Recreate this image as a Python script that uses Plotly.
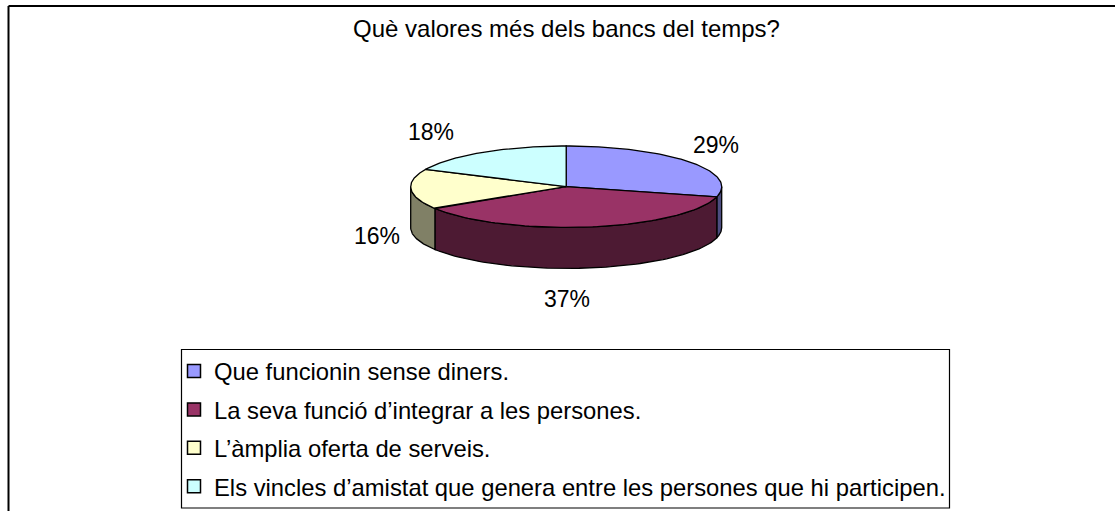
import numpy as np
import plotly.graph_objects as go

# ---------------- data ----------------
categories = [
    "Que funcionin sense diners.",
    "La seva funció d’integrar a les persones.",
    "L’àmplia oferta de serveis.",
    "Els vincles d’amistat que genera entre les persones que hi participen.",
]
values = [29, 37, 16, 18]
title_text = "Què valores més dels bancs del temps?"

# ---------------- style ----------------
top_colors = ["#9999FF", "#993366", "#FFFFCC", "#CCFFFF"]
side_colors = ["#4D4D80", "#4D1A33", "#808066", "#668080"]
FONT = "Arial, Liberation Sans, sans-serif"
W, H = 1115, 511
CX_PX, CY_PX = 566.2, 186.7      # pie centre (pixels)
RX_PX = 155.5                    # horizontal radius (pixels) -> 1 unit
TILT = 40.7 / RX_PX              # vertical squash of the top face
DEPTH = 41.0 / RX_PX             # thickness of the pie
LAB_RX, LAB_RY = 1.222, 0.437    # label ellipse
label_nudge_px = [(0, 0), (-29, -4), (0, -4), (-33, -3)]  # (dx, dy up)

x_range = [-CX_PX / RX_PX, (W - CX_PX) / RX_PX]
y_range = [-(H - CY_PX) / RX_PX, CY_PX / RX_PX]

total = float(sum(values))
bounds = [90.0]
for v in values:
    bounds.append(bounds[-1] - 360.0 * v / total)


def arc(a0, a1, n=80):
    return np.radians(np.linspace(a0, a1, n))


fig = go.Figure()

# side walls (only the front half, angles in [-180, 0] mod 360)
for i in range(len(values)):
    hi, lo = bounds[i], bounds[i + 1]
    for shift in (-360.0, 0.0, 360.0):
        s_lo, s_hi = max(lo, -180.0 + shift), min(hi, 0.0 + shift)
        if s_hi - s_lo <= 0.01:
            continue
        t = arc(s_lo, s_hi)
        xs = np.concatenate([np.cos(t), np.cos(t[::-1]), [np.cos(t[0])]])
        ys = np.concatenate([TILT * np.sin(t), TILT * np.sin(t[::-1]) - DEPTH,
                             [TILT * np.sin(t[0])]])
        fig.add_trace(go.Scatter(
            x=xs, y=ys, mode="lines", fill="toself",
            fillcolor=side_colors[i], line=dict(color="black", width=1.3),
            showlegend=False, hoverinfo="skip"))

# top faces
for i in range(len(values)):
    t = arc(bounds[i], bounds[i + 1])
    xs = np.concatenate([[0.0], np.cos(t), [0.0]])
    ys = np.concatenate([[0.0], TILT * np.sin(t), [0.0]])
    fig.add_trace(go.Scatter(
        x=xs, y=ys, mode="lines", fill="toself",
        fillcolor=top_colors[i], line=dict(color="black", width=1.3),
        showlegend=False, hoverinfo="text",
        text=f"{categories[i]} {values[i]}%"))

# legend entries
for i, name in enumerate(categories):
    fig.add_trace(go.Scatter(
        x=[None], y=[None], mode="markers", name=name, legendgroup=name,
        marker=dict(symbol="square", size=13, color=top_colors[i],
                    line=dict(color="black", width=1.5))))

# percentage labels
annotations = []
for i, v in enumerate(values):
    m = np.radians((bounds[i] + bounds[i + 1]) / 2.0)
    lx = LAB_RX * np.cos(m)
    ly = LAB_RY * np.sin(m) - (DEPTH if np.sin(m) < 0 else 0.0)
    dx, dy = label_nudge_px[i]
    annotations.append(dict(
        x=lx, y=ly, xref="x", yref="y", text=f"{round(v / total * 100)}%",
        showarrow=False, xanchor="center", yanchor="middle",
        xshift=dx, yshift=dy,
        font=dict(family=FONT, size=23, color="black")))

shapes = [
    # outer chart frame (only left & top are inside the picture)
    dict(type="line", xref="paper", yref="paper",
         x0=8.5 / W, x1=8.5 / W, y0=-0.1, y1=1 - 6 / H,
         line=dict(color="black", width=2)),
    dict(type="line", xref="paper", yref="paper",
         x0=8.5 / W, x1=1.1, y0=1 - 6 / H, y1=1 - 6 / H,
         line=dict(color="black", width=2)),
    # legend box
    dict(type="rect", xref="paper", yref="paper",
         x0=181.5 / W, x1=949.5 / W, y0=1 - 508 / H, y1=1 - 349.5 / H,
         line=dict(color="black", width=1.2), fillcolor="rgba(0,0,0,0)"),
]

fig.update_layout(
    width=W, height=H,
    margin=dict(l=0, r=0, t=0, b=0),
    paper_bgcolor="white", plot_bgcolor="white",
    title=dict(text=title_text, x=566.5 / W, xanchor="center",
               y=1 - 29 / H, yanchor="middle", yref="container",
               font=dict(family=FONT, size=24, color="black")),
    xaxis=dict(range=x_range, visible=False, fixedrange=True),
    yaxis=dict(range=y_range, visible=False, fixedrange=True),
    showlegend=True,
    legend=dict(x=174 / W, y=1 - 349 / H, xanchor="left", yanchor="top",
                borderwidth=0, bgcolor="rgba(0,0,0,0)",
                font=dict(family=FONT, size=23.8, color="black"),
                traceorder="grouped", tracegroupgap=4.5, itemclick=False),
    annotations=annotations,
    shapes=shapes,
)

fig.write_html("out.html",
               config={"displayModeBar": False},
               post_script="document.body.style.margin='0px';")
